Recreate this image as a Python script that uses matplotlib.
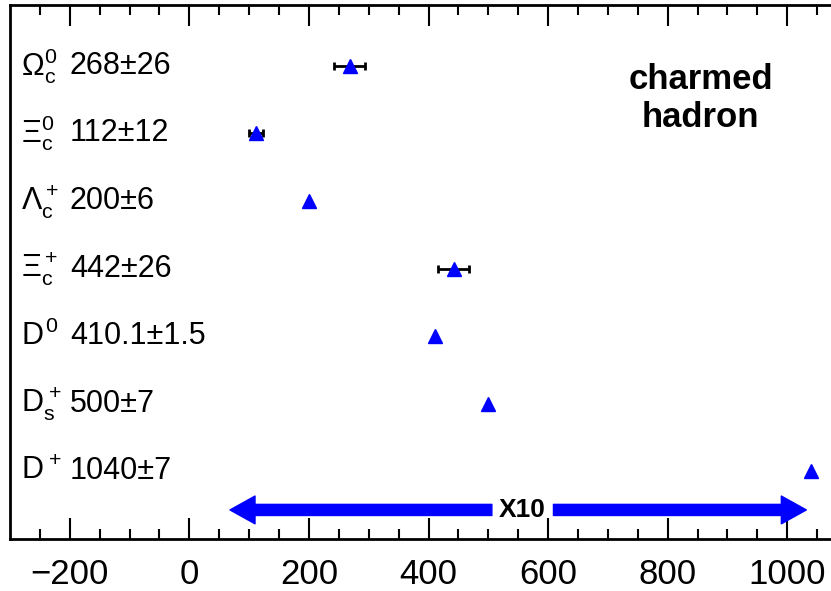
import numpy as np
import matplotlib
matplotlib.use("Agg")
import matplotlib.pyplot as plt

plt.rcParams['font.family'] = ['Liberation Sans', 'DejaVu Sans']
plt.rcParams['mathtext.fontset'] = 'custom'
plt.rcParams['mathtext.rm'] = 'Liberation Sans'
plt.rcParams['mathtext.it'] = 'Liberation Sans'
plt.rcParams['mathtext.bf'] = 'Liberation Sans:bold'

# lifetimes (fs), top row first
particles = [r'$\Omega_c^0$', r'$\Xi_c^0$', r'$\Lambda_c^+$', r'$\Xi_c^+$',
             r'$D^0$', r'$D_s^+$', r'$D^+$']
labels = ['268\u00b126', '112\u00b112', '200\u00b16', '442\u00b126',
          '410.1\u00b11.5', '500\u00b17', '1040\u00b17']
tau = [268, 112, 200, 442, 410.1, 500, 1040]
err = [26, 12, 6, 26, 1.5, 7, 7]
rows = [7, 6, 5, 4, 3, 2, 1]

fig = plt.figure(figsize=(8.31, 5.91), dpi=100)
ax = fig.add_axes([10/831, 52/591, 837/831, 534/591])

# like ROOT: error bars shorter than the marker are not drawn
big = [i for i, e in enumerate(err) if e >= 10]
ax.errorbar([tau[i] for i in big], [rows[i] for i in big],
            xerr=[err[i] for i in big], fmt='none', ecolor='black',
            elinewidth=2, capsize=3, capthick=2, zorder=2)
ax.plot(tau, rows, '^', color='blue', ms=10, mec='blue', zorder=3)

for r, p, l in zip(rows, particles, labels):
    ax.text(-281, r, p, fontsize=22, va='center', ha='left')
    ax.text(-200, r, l, fontsize=22, va='center', ha='left')

ax.text(855, 6.52, 'charmed\nhadron', fontsize=25, fontweight='bold',
        ha='center', va='center', linespacing=1.2)

# x10 arrows
arr = dict(arrowstyle='simple,head_length=1.8,head_width=2.0,tail_width=0.8',
           color='blue', mutation_scale=10, shrinkA=0, shrinkB=0)
ax.annotate('', xy=(68, 0.43), xytext=(506, 0.43), arrowprops=arr)
ax.annotate('', xy=(1032, 0.43), xytext=(609, 0.43), arrowprops=arr)
ax.text(557, 0.43, 'X10', fontsize=19, fontweight='bold', ha='center',
        va='center')

ax.set_xlim(-300, 1100)
ax.set_ylim(0, 7.9)
ax.set_xticks([-200, 0, 200, 400, 600, 800, 1000])
ax.set_xticks(np.arange(-250, 1100, 50), minor=True)
ax.tick_params(axis='x', which='both', direction='in', top=True,
               labelsize=25, pad=14, width=1.5)
ax.tick_params(axis='x', which='major', length=15)
ax.tick_params(axis='x', which='minor', length=7)
ax.set_yticks([])
for s in ax.spines.values():
    s.set_linewidth(2)

fig.savefig('out.png', dpi=100)
